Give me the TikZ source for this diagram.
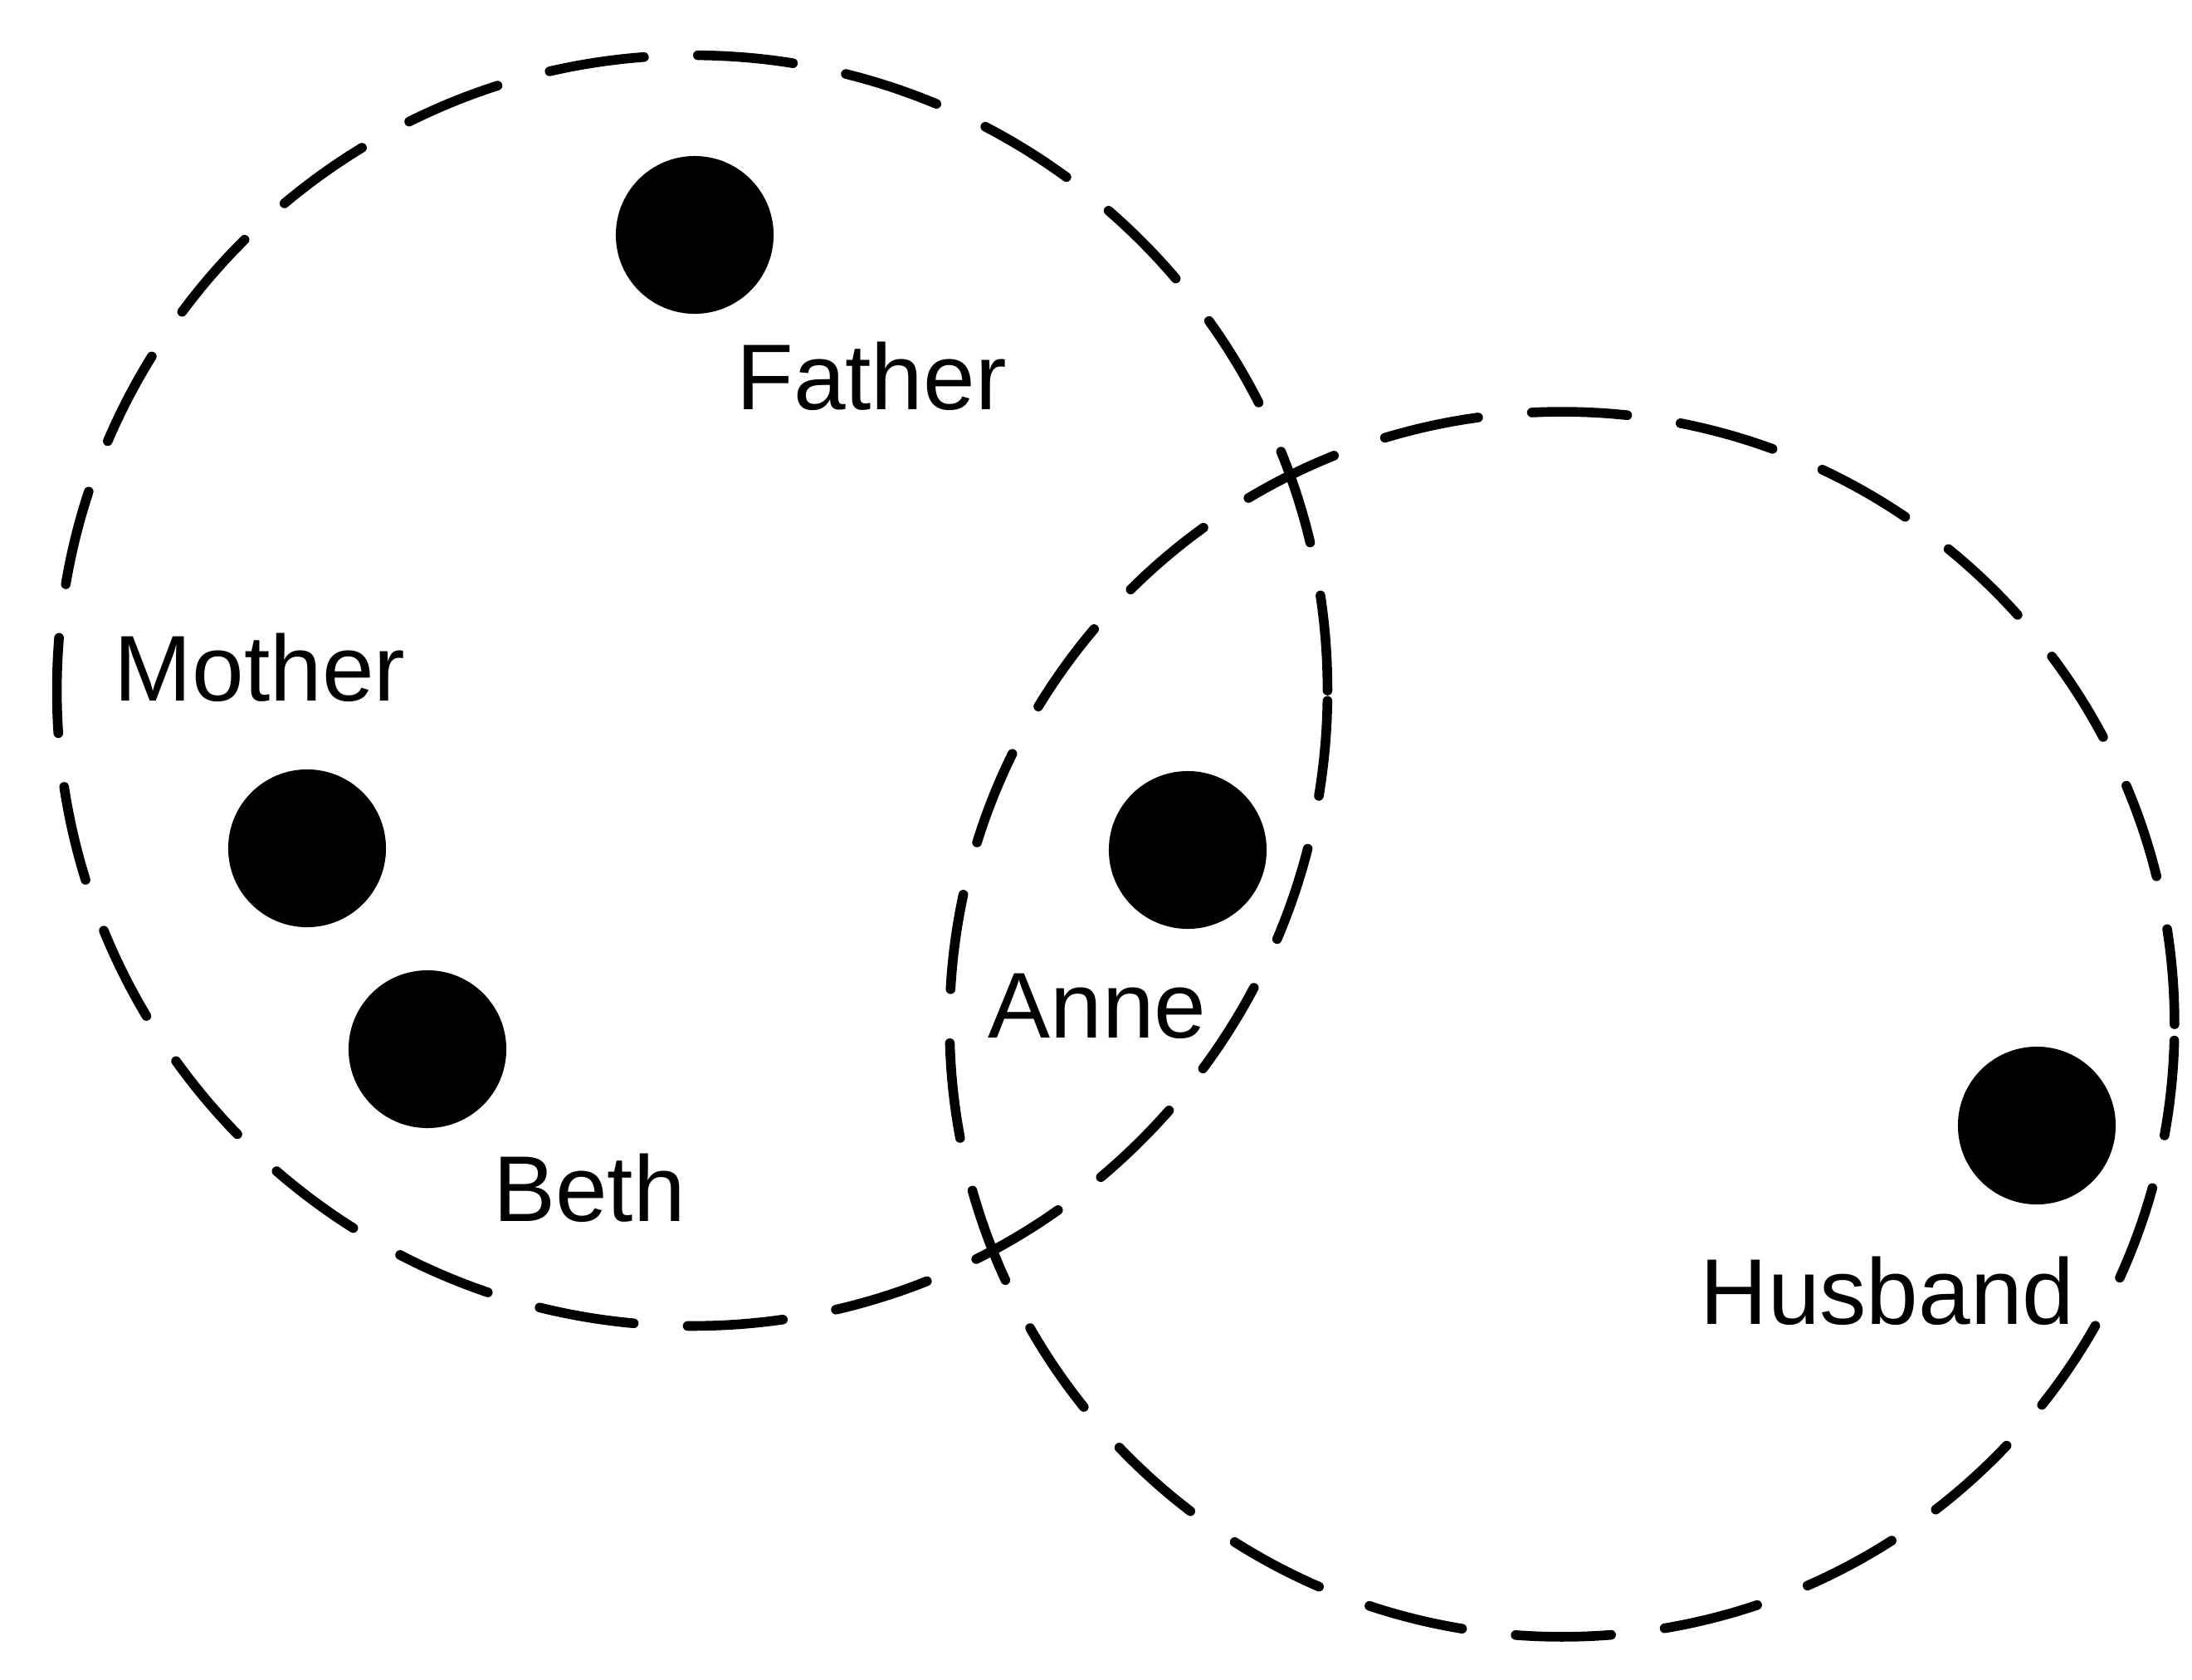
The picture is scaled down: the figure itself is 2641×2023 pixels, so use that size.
\documentclass[tikz,border=0pt]{standalone}
\usepackage{fontspec}
\setmainfont{Liberation Sans}
\begin{document}
\begin{tikzpicture}[
    x=0.01cm, y=-0.01cm,
    kin/.style={circle, draw, line width=3.3pt, line cap=round, dash pattern=on 1.15cm off 0.65cm, inner sep=0pt},
    person/.style={circle, fill, minimum size=1.9cm, inner sep=0pt},
    who/.style={font=\fontsize{32}{38}\selectfont, inner sep=0pt}
  ]
  \useasboundingbox (0,0) rectangle (2641,2023);
  \node[kin, minimum size=15.3cm] (family) at (834,832) {};
  \node[kin, minimum size=14.75cm] (marriage) at (1882,1234) {};
  \node[person] (father) at (837,283) {};
  \node[person] (mother) at (370,1022) {};
  \node[person] (beth) at (515,1264) {};
  \node[person] (anne) at (1431,1024) {};
  \node[person] (husband) at (2454,1356) {};
  \node[who] (fatherlbl) at (1050,453) {Father};
  \node[who] (motherlbl) at (313,804) {Mother};
  \node[who] (bethlbl) at (710,1431) {Beth};
  \node[who] (annelbl) at (1322,1212) {Anne};
  \node[who] (husbandlbl) at (2274,1555) {Husband};
\end{tikzpicture}
\end{document}
